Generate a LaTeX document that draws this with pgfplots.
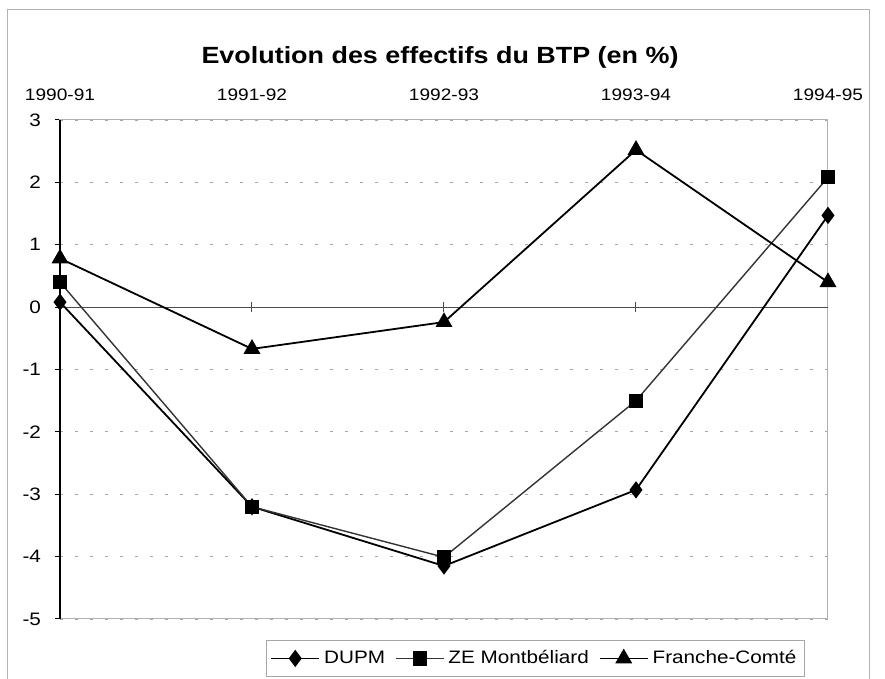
\documentclass[border=0pt]{standalone}
\usepackage{fontspec}
\setmainfont[FakeStretch=1.15]{Liberation Sans}
\usepackage{pgfplots}
\pgfplotsset{compat=1.18}
\begin{document}
\begin{tikzpicture}
\path[use as bounding box] (-30pt,-30pt) rectangle (412.5pt,309.5pt);
\draw[gray!60, line width=0.5pt] (-26pt,-31pt) -- (-26pt,304.5pt) -- (404.5pt,304.5pt) -- (404.5pt,-31pt);
\begin{axis}[
  at={(0,0)}, anchor=south west,
  scale only axis, width=384pt, height=249.5pt,
  xmin=0, xmax=4, ymin=-5, ymax=3,
  clip=false,
  xtick={0,1,2,3,4},
  xticklabels={1990-91,1991-92,1992-93,1993-94,1994-95},
  xticklabel pos=upper,
  x tick style={draw=none},
  x tick label style={font=\fontsize{8.3}{10}\selectfont, anchor=base, yshift=7pt},
  ytick={-5,-4,-3,-2,-1,0,1,2,3},
  yticklabels={-5,-4,-3,-2,-1,0,1,2,3},
  ytick pos=left,
  y tick label style={font=\fontsize{9}{11}\selectfont, xshift=-3.5pt},
  y tick style={black, line width=0.5pt},
  tick align=outside, major tick length=2.5pt,
  ymajorgrids,
  grid style={gray!70, dash pattern=on 1.5pt off 6pt, line width=0.4pt},
  axis line style={gray!60, line width=0.5pt},
  legend style={at={(0.619,-0.079)}, anchor=center, draw=gray!70, fill=white,
    legend columns=3, font=\fontsize{9}{10}\selectfont,
    inner xsep=2pt, inner ysep=3pt,
    /tikz/every even column/.append style={column sep=3pt}},
  legend image code/.code={\draw[mark repeat=2,mark phase=2,#1] plot coordinates {(0pt,0pt) (12pt,0pt) (24pt,0pt)};},
]
\draw[black!70, line width=0.5pt] (axis cs:0,0) -- (axis cs:4,0);
\pgfplotsinvokeforeach{1,2,3}{\draw[black!70, line width=0.5pt] (axis cs:#1,-0.08) -- (axis cs:#1,0.08);}
\draw[black, line width=0.8pt] (rel axis cs:0,0) -- (rel axis cs:0,1);
\addplot[black, line width=0.9pt, mark=diamond*, mark size=3.6pt, mark options={solid, fill=black}]
  coordinates {(0,0.08) (1,-3.2) (2,-4.15) (3,-2.93) (4,1.47)};
\addlegendentry{DUPM}
\addplot[black!80, line width=0.7pt, mark=square*, mark size=3.2pt, mark options={solid, fill=black, draw=black}]
  coordinates {(0,0.40) (1,-3.2) (2,-4.01) (3,-1.50) (4,2.08)};
\addlegendentry{ZE Montbéliard}
\addplot[black, line width=0.9pt, mark=triangle*, mark size=4pt, mark options={solid, fill=black}]
  coordinates {(0,0.78) (1,-0.67) (2,-0.24) (3,2.52) (4,0.40)};
\addlegendentry{Franche-Comté}
\end{axis}
\node[font=\bfseries\fontsize{11.7}{14}\selectfont, anchor=base] at (190pt,277.5pt) {Evolution des effectifs du BTP (en \%)};
\end{tikzpicture}
\end{document}
